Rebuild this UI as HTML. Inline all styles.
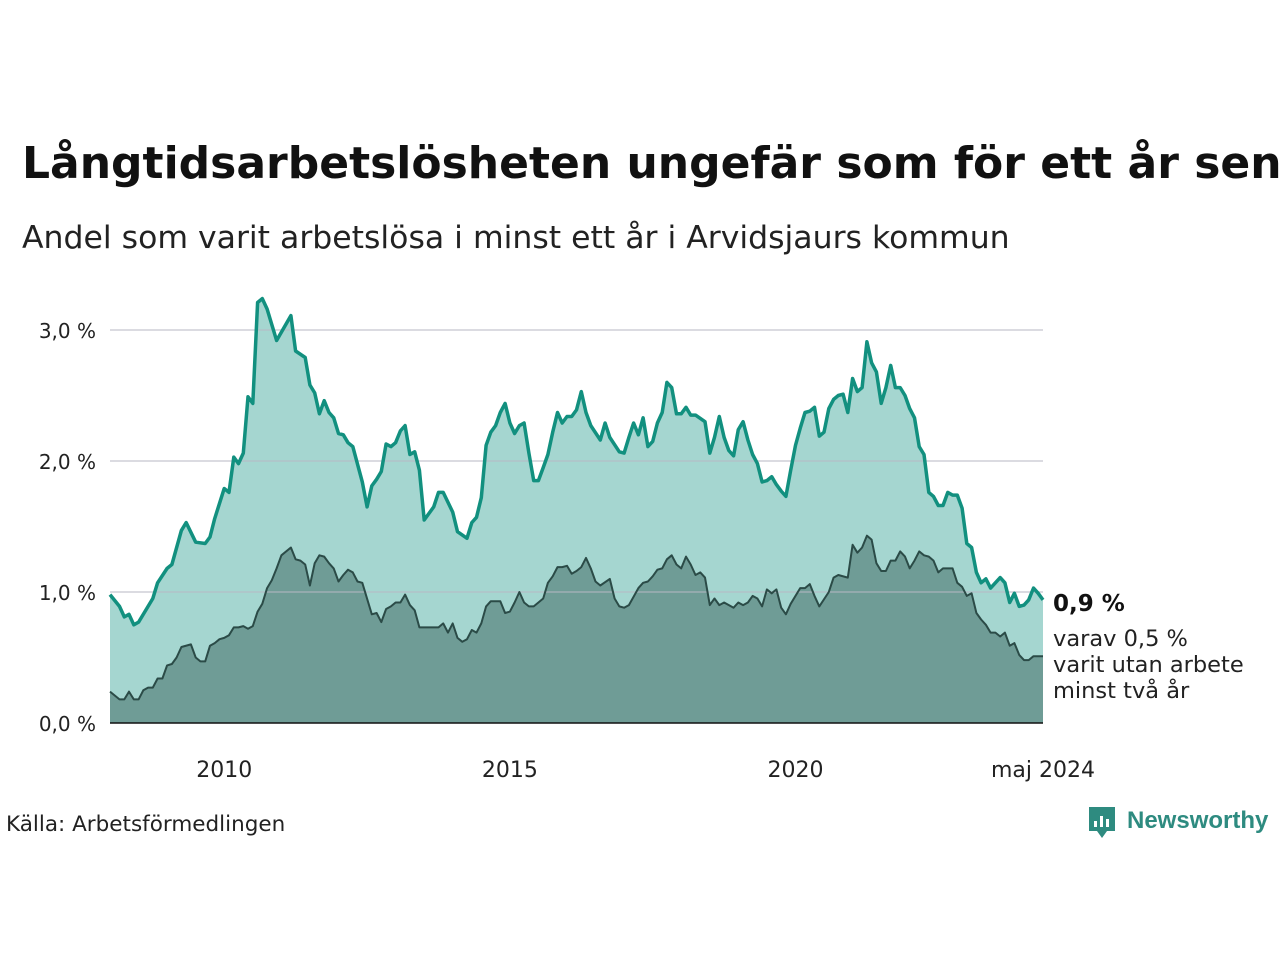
<!DOCTYPE html>
<html><head><meta charset="utf-8">
<style>
html,body{margin:0;padding:0;background:#fff;}
body{width:1280px;height:960px;overflow:hidden;position:relative;font-family:"DejaVu Sans",sans-serif;color:#111;}
svg{position:absolute;left:0;top:0;}
</style></head>
<body>
<svg id="chart" width="1280" height="960" viewBox="0 0 1280 960" xmlns="http://www.w3.org/2000/svg">
<text x="22" y="178" font-family="DejaVu Sans, sans-serif" font-weight="bold" font-size="44" fill="#111">Långtidsarbetslösheten ungefär som för ett år sen</text>
<text x="22" y="248" font-family="DejaVu Sans, sans-serif" font-size="31.5" fill="#222">Andel som varit arbetslösa i minst ett år i Arvidsjaurs kommun</text>
<g id="plot"></g>
<text x="1053" y="611" font-family="DejaVu Sans, sans-serif" font-weight="bold" font-size="23" fill="#111">0,9 %</text>
<text font-family="DejaVu Sans, sans-serif" font-size="22.5" fill="#222">
<tspan x="1053" y="646">varav 0,5 %</tspan><tspan x="1053" y="672">varit utan arbete</tspan><tspan x="1053" y="698">minst två år</tspan></text>
<text x="6" y="831" font-family="DejaVu Sans, sans-serif" font-size="21.5" fill="#222">Källa: Arbetsförmedlingen</text>
<g>
<path d="M1089 807 h26 v24 h-8 l-5 7 l-5 -7 h-8 z" fill="#2e8b80"/>
<rect x="1094" y="821" width="3" height="6" fill="#fff"/><rect x="1100" y="816" width="3" height="11" fill="#fff"/><rect x="1106" y="819" width="3" height="8" fill="#fff"/>
<text x="1127" y="828" font-family="Liberation Sans, sans-serif" font-weight="bold" font-size="24" fill="#2e8b80">Newsworthy</text>
</g>
</svg>
<script>
const totalMonths = [0, 196];
const yTicks = [0, 1, 2, 3];
const yTickLabels = ["0,0 %", "1,0 %", "2,0 %", "3,0 %"];
const xTickMonths = [24, 84, 144, 196];
const xTickLabels = ["2010", "2015", "2020", "maj 2024"];
const upperMonths = [0,2,3,4,5,6,9,10,12,13,15,16,18,20,21,22,24,25,26,27,28,29,30,31,32,33,35,38,39,41,42,43,44,45,46,47,48,49,50,51,53,54,55,56,57,58,59,60,61,62,63,64,65,66,68,69,70,72,73,75,76,77,78,79,80,81,82,83,84,85,86,87,88,89,90,91,92,93,94,95,96,97,98,99,100,101,103,104,105,107,108,109,110,111,112,113,114,115,116,117,118,119,120,121,122,123,125,126,127,128,129,130,131,132,133,134,135,136,137,138,139,140,141,142,143,144,145,146,147,148,149,150,151,152,153,154,155,156,157,158,159,160,161,162,163,164,165,166,167,168,169,170,171,172,173,174,175,176,177,178,179,180,181,182,183,184,185,186,187,188,189,190,191,192,193,194,195,196];
const upperValues = [.98,.89,.81,.83,.75,.77,.95,1.07,1.18,1.21,1.47,1.53,1.38,1.37,1.42,1.56,1.79,1.76,2.03,1.98,2.06,2.49,2.44,3.21,3.24,3.16,2.92,3.11,2.84,2.79,2.58,2.52,2.36,2.46,2.37,2.33,2.21,2.20,2.14,2.11,1.84,1.65,1.81,1.86,1.92,2.13,2.11,2.14,2.23,2.27,2.05,2.07,1.93,1.55,1.65,1.76,1.76,1.61,1.46,1.41,1.53,1.57,1.72,2.12,2.22,2.27,2.37,2.44,2.29,2.21,2.27,2.29,2.06,1.85,1.85,1.95,2.05,2.22,2.37,2.29,2.34,2.34,2.39,2.53,2.37,2.27,2.16,2.29,2.18,2.07,2.06,2.18,2.29,2.20,2.33,2.11,2.15,2.29,2.37,2.60,2.56,2.36,2.36,2.41,2.35,2.35,2.30,2.06,2.18,2.34,2.18,2.08,2.04,2.24,2.30,2.16,2.05,1.98,1.84,1.85,1.88,1.82,1.77,1.73,1.93,2.12,2.25,2.37,2.38,2.41,2.19,2.22,2.40,2.47,2.50,2.51,2.37,2.63,2.53,2.56,2.91,2.75,2.68,2.44,2.56,2.73,2.56,2.56,2.50,2.40,2.33,2.11,2.05,1.76,1.73,1.66,1.66,1.76,1.74,1.74,1.64,1.37,1.34,1.15,1.07,1.10,1.03,1.07,1.11,1.07,.92,.99,.89,.90,.94,1.03,.99,.94];
const lowerMonths = [0,2,3,4,5,6,7,8,9,10,11,12,13,14,15,17,18,19,20,21,22,23,24,25,26,27,28,29,30,31,32,33,34,35,36,38,39,40,41,42,43,44,45,46,47,48,49,50,51,52,53,55,56,57,58,59,60,61,62,63,64,65,67,68,69,70,71,72,73,74,75,76,77,78,79,80,82,83,84,85,86,87,88,89,90,91,92,93,94,95,96,97,98,99,100,101,102,103,105,106,107,108,109,111,112,113,114,115,116,117,118,119,120,121,122,123,124,125,126,127,128,129,131,132,133,134,135,136,137,138,139,140,141,142,143,145,146,147,148,149,151,152,153,155,156,157,158,159,160,161,162,163,164,165,166,167,168,169,170,171,172,173,174,175,177,178,179,180,181,182,183,184,185,186,187,188,189,190,191,192,193,194,196];
const lowerValues = [.24,.18,.18,.24,.18,.18,.25,.27,.27,.34,.34,.44,.45,.50,.58,.60,.50,.47,.47,.59,.61,.64,.65,.67,.73,.73,.74,.72,.74,.85,.91,1.03,1.09,1.18,1.28,1.34,1.25,1.24,1.21,1.05,1.22,1.28,1.27,1.22,1.18,1.08,1.13,1.17,1.15,1.08,1.07,.83,.84,.77,.87,.89,.92,.92,.98,.90,.86,.73,.73,.73,.73,.76,.69,.76,.65,.62,.64,.71,.69,.76,.89,.93,.93,.84,.85,.92,1.00,.92,.89,.89,.92,.95,1.07,1.12,1.19,1.19,1.20,1.14,1.16,1.19,1.26,1.18,1.08,1.05,1.10,.95,.89,.88,.90,1.03,1.07,1.08,1.12,1.17,1.18,1.25,1.28,1.21,1.18,1.27,1.21,1.13,1.15,1.11,.90,.95,.90,.92,.88,.92,.90,.92,.97,.95,.89,1.02,.99,1.02,.88,.83,.91,1.03,1.03,1.06,.97,.89,1.00,1.11,1.13,1.11,1.36,1.30,1.34,1.43,1.40,1.22,1.16,1.16,1.24,1.24,1.31,1.27,1.18,1.24,1.31,1.28,1.27,1.24,1.15,1.18,1.18,1.07,1.04,.97,.99,.84,.79,.75,.69,.69,.66,.69,.59,.61,.52,.48,.48,.51,.51];

const NS = "http://www.w3.org/2000/svg";
const plot = document.getElementById('plot');
const X0 = 110, X1 = 1043, Y0 = 723, PX_PER_UNIT = 131;
function xs(m){ return X0 + (m - totalMonths[0]) / (totalMonths[1] - totalMonths[0]) * (X1 - X0); }
function ys(v){ return Y0 - v * PX_PER_UNIT; }
function mk(tag, attrs){ const e = document.createElementNS(NS, tag); for (const k in attrs) e.setAttribute(k, attrs[k]); plot.appendChild(e); return e; }
function linePts(ms, vs){ return ms.map((m,i)=>xs(m).toFixed(1)+','+ys(vs[i]).toFixed(1)).join(' '); }
function areaD(ms, vs){ return 'M'+xs(ms[0])+','+Y0+' L'+linePts(ms,vs).split(' ').join(' L')+' L'+xs(ms[ms.length-1])+','+Y0+' Z'; }

const ua = mk('path', {d: areaD(upperMonths, upperValues), fill: '#a5d6d0'});


const la = mk('path', {d: areaD(lowerMonths, lowerValues), fill: '#6f9c96'});



yTicks.forEach((t, i) => {
  if (t > 0) {
    const g = mk('line', {x1: X0, x2: X1, y1: ys(t), y2: ys(t), stroke: '#b8b8c4', 'stroke-opacity': 0.5, 'stroke-width': 2});
    
    
  }
  const lb = mk('text', {x: 96, y: ys(t) + 8, 'text-anchor': 'end', 'font-family': 'DejaVu Sans, sans-serif', 'font-size': 20, fill: '#222'});
  lb.textContent = yTickLabels[i];
  
  
});

const ll = mk('polyline', {points: linePts(lowerMonths, lowerValues), fill: 'none', stroke: '#2b4b47', 'stroke-width': 2, 'stroke-linejoin': 'round'});


const ul = mk('polyline', {points: linePts(upperMonths, upperValues), fill: 'none', stroke: '#12907f', 'stroke-width': 3.5, 'stroke-linejoin': 'round'});



const base = mk('line', {x1: X0, x2: X1, y1: Y0, y2: Y0, stroke: '#111', 'stroke-width': 1.5});



xTickMonths.forEach((m, i) => {
  const t = mk('text', {x: xs(m), y: 777, 'text-anchor': 'middle', 'font-family': 'DejaVu Sans, sans-serif', 'font-size': 22, fill: '#222'});
  t.textContent = xTickLabels[i];
  
  
});
</script>
</body></html>
